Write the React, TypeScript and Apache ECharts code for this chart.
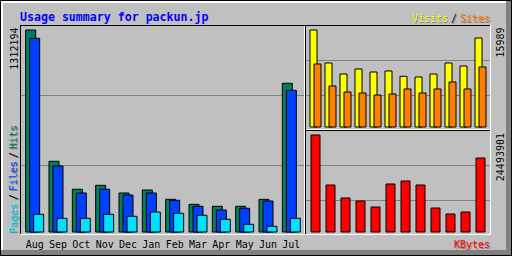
import { useEffect, useRef } from "react";
import * as echarts from "echarts";

const months = ["Aug", "Sep", "Oct", "Nov", "Dec", "Jan", "Feb", "Mar", "Apr", "May", "Jun", "Jul"];
const hits = [1312194, 463500, 282500, 308300, 258600, 278000, 217800, 185500, 172600, 172600, 217800, 967700];
const files = [1258500, 433100, 258600, 282500, 245600, 258600, 211400, 172600, 148700, 159700, 206900, 922400];
const pages = [120900, 95000, 95000, 120900, 108000, 135700, 127300, 114400, 88600, 56200, 43300, 95000];
const visits = [15989, 10605, 8810, 9626, 9136, 9300, 8435, 8321, 8810, 10605, 10115, 14684];
const sites = [10442, 6852, 5873, 5710, 5384, 5547, 6363, 5710, 6363, 7505, 6363, 9952];
const kbytes = [24493901, 11997000, 8748000, 7998000, 6498000, 12247000, 12997000, 11997000, 6248000, 4749000, 5249000, 18745000];

const title = "Usage summary for packun.jp";

const C = {
  hits: "#00805C",
  files: "#0040FF",
  pages: "#00E0FF",
  visits: "#FFFF00",
  sites: "#FF8000",
  kbytes: "#FF0000",
  grey: "#C0C0C0",
  dk: "#808080",
};

const MONO = '"DejaVu Sans Mono", monospace';
const SMALL = `10px ${MONO}`;

function txt(text: string, x: number, y: number, fill: string, align: string, vAlign: string, rotation = 0, font = SMALL) {
  return {
    type: "text",
    x,
    y,
    rotation,
    silent: true,
    style: {
      text,
      fill,
      font,
      align,
      verticalAlign: vAlign,
      textAlign: align,
      textVerticalAlign: vAlign,
    },
  };
}

function shadowTxt(text: string, x: number, y: number, fill: string, align: string, rotation = 0) {
  return [txt(text, x + 1, y + 1, C.dk, align, "middle", rotation), txt(text, x, y, fill, align, "middle", rotation)];
}

function hline(x1: number, x2: number, y: number, color: string) {
  return { type: "line", silent: true, shape: { x1, y1: y + 0.5, x2, y2: y + 0.5 }, style: { stroke: color, lineWidth: 1 } };
}
function vline(x: number, y1: number, y2: number, color: string) {
  return { type: "line", silent: true, shape: { x1: x + 0.5, y1, x2: x + 0.5, y2 }, style: { stroke: color, lineWidth: 1 } };
}

export default function App() {
  const ref = useRef<HTMLDivElement>(null);
  useEffect(() => {
    if (!ref.current) return;
    const chart = echarts.init(ref.current, undefined, { renderer: "svg" });
    const maxHits = Math.max(...hits);
    const maxVisits = Math.max(...visits);
    const maxK = Math.max(...kbytes);
    const up = Math.PI / 2;

    const bar = (name: string, data: number[], color: string, gi: number, w: number, gap: string) => ({
      type: "bar",
      name,
      data,
      xAxisIndex: gi,
      yAxisIndex: gi,
      barWidth: w,
      barGap: gap,
      silent: true,
      itemStyle: { color, borderColor: "#000", borderWidth: 1 },
    });

    const graphic: any[] = [
      // bevel
      { type: "rect", silent: true, shape: { x: 0, y: 0, width: 512, height: 3 }, style: { fill: "#FFFFFF" } },
      { type: "rect", silent: true, shape: { x: 0, y: 0, width: 3, height: 256 }, style: { fill: "#FFFFFF" } },
      { type: "rect", silent: true, shape: { x: 0, y: 250, width: 512, height: 6 }, style: { fill: C.dk } },
      { type: "rect", silent: true, shape: { x: 506, y: 0, width: 6, height: 256 }, style: { fill: C.dk } },
      { type: "rect", silent: true, shape: { x: 0.5, y: 0.5, width: 511, height: 255 }, style: { fill: "none", stroke: "#000", lineWidth: 1 } },
      // inner box
      hline(20, 491, 25, "#000"),
      vline(20, 25, 235, "#000"),
      hline(20, 491, 234, "#FFFFFF"),
      vline(490, 25, 235, "#FFFFFF"),
      // dividers
      vline(304, 26, 234, "#FFFFFF"),
      vline(305, 26, 234, "#000"),
      hline(306, 490, 129, "#FFFFFF"),
      hline(306, 490, 130, "#000"),
      // grid lines
      hline(21, 304, 95, C.dk),
      hline(21, 304, 165, C.dk),
      hline(306, 490, 60, C.dk),
      hline(306, 490, 95, C.dk),
      hline(306, 490, 165, C.dk),
      hline(306, 490, 200, C.dk),
      // title
      txt(title, 20, 16.5, "#0000FF", "left", "middle", 0, `bold 11.6px ${MONO}`),
      // max labels
      txt(String(maxHits), 14, 27.5, "#000", "right", "middle", up),
      txt(String(maxVisits), 500, 27.5, "#000", "right", "middle", up),
      txt(String(maxK), 500, 133, "#000", "right", "middle", up),
      // left legend
      ...shadowTxt("Pages", 13.5, 233, C.pages, "left", up),
      ...shadowTxt("/", 13.5, 197, "#000", "center", up),
      ...shadowTxt("Files", 13.5, 191, C.files, "left", up),
      ...shadowTxt("/", 13.5, 155, "#000", "center", up),
      ...shadowTxt("Hits", 13.5, 149, C.hits, "left", up),
      // right legends
      ...shadowTxt("Visits", 412, 18.5, C.visits, "left"),
      ...shadowTxt("/", 454, 18.5, "#000", "center"),
      ...shadowTxt("Sites", 460, 18.5, C.sites, "left"),
      ...shadowTxt("KBytes", 454, 244.4, C.kbytes, "left"),
    ];

    chart.setOption({
      animation: false,
      backgroundColor: C.grey,
      grid: [
        { left: 23, top: 29.5, width: 280, height: 203 },
        { left: 308, top: 29.5, width: 180, height: 98 },
        { left: 308, top: 134.5, width: 180, height: 98 },
      ],
      xAxis: [
        {
          type: "category",
          data: months,
          gridIndex: 0,
          axisLine: { show: false },
          axisTick: { show: false },
          splitLine: { show: false },
          axisLabel: { color: "#000", fontFamily: MONO, fontSize: 10, margin: 7, lineHeight: 10, interval: 0 },
        },
        { type: "category", data: months, gridIndex: 1, show: false },
        { type: "category", data: months, gridIndex: 2, show: false },
      ],
      yAxis: [
        { type: "value", gridIndex: 0, min: 0, max: maxHits, show: false },
        { type: "value", gridIndex: 1, min: 0, max: maxVisits, show: false },
        { type: "value", gridIndex: 2, min: 0, max: maxK, show: false },
      ],
      series: [
        bar("Hits", hits, C.hits, 0, 11, "-63.64%"),
        bar("Files", files, C.files, 0, 11, "-63.64%"),
        bar("Pages", pages, C.pages, 0, 11, "-63.64%"),
        bar("Visits", visits, C.visits, 1, 8, "-50%"),
        bar("Sites", sites, C.sites, 1, 8, "-50%"),
        bar("KBytes", kbytes, C.kbytes, 2, 10, "-50%"),
      ],
      graphic,
    });
    return () => chart.dispose();
  }, []);
  return <div ref={ref} style={{ position: "fixed", left: 0, top: 0, width: 512, height: 256 }} />;
}
